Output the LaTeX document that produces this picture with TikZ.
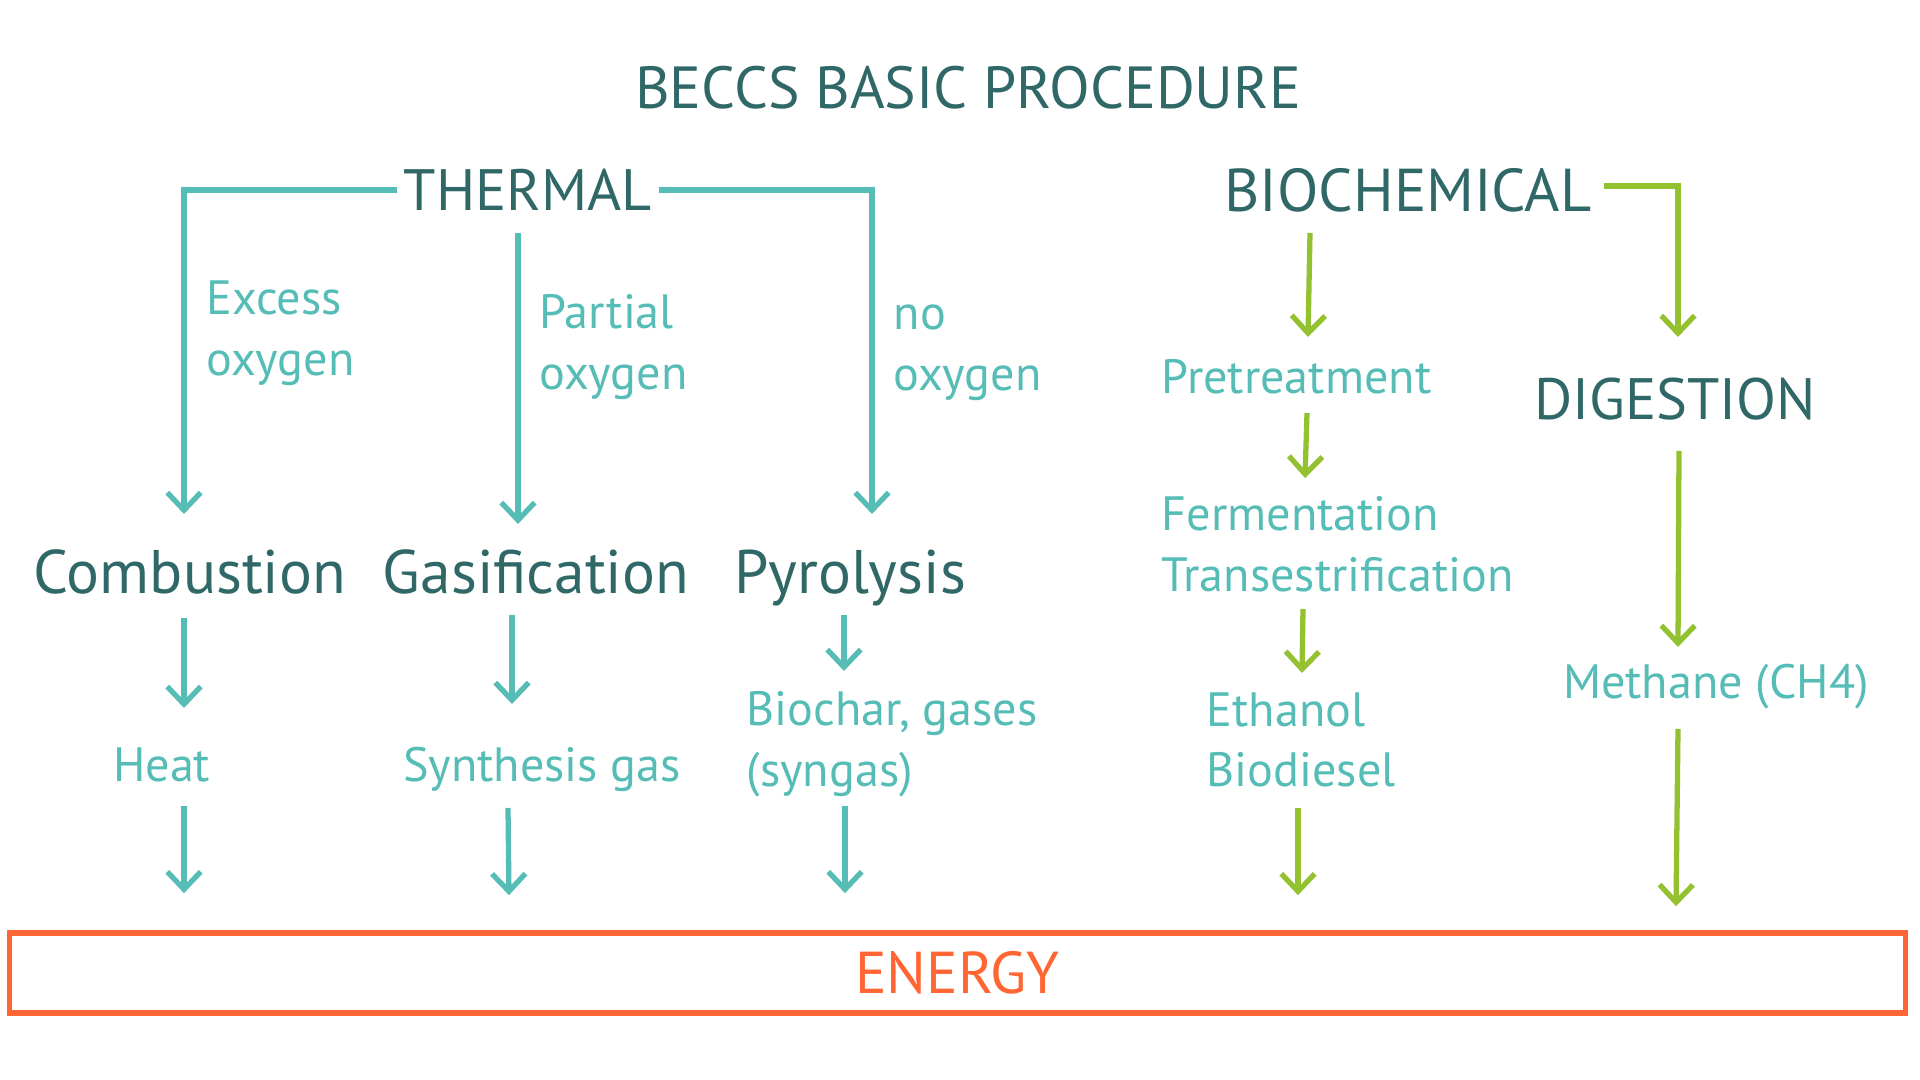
\documentclass[tikz,border=0pt]{standalone}
\usepackage{fontspec}
\setmainfont{PT Sans}
\usetikzlibrary{arrows.meta, positioning, calc}
\definecolor{tealL}{HTML}{55BCB6}
\definecolor{tealD}{HTML}{2F6866}
\definecolor{leaf}{HTML}{94C12F}
\definecolor{flame}{HTML}{FF6633}
\tikzset{
  lbl/.style={inner sep=0pt},
  head/.style={lbl, text=tealD, font=\fontsize{16.6}{20}\selectfont},
  proc/.style={lbl, text=tealD, text depth=0pt, font=\fontsize{17.5}{21}\selectfont},
  note/.style={lbl, text=tealL, font=\fontsize{13.7}{17.3}\selectfont, align=left},
  tarr/.style={draw=tealL, line width=1.5pt, -{Straight Barb[length=5pt,width=9.5pt]}},
  garr/.style={draw=leaf, line width=1.5pt, -{Straight Barb[length=5pt,width=9.5pt]}},
}
\begin{document}
\begin{tikzpicture}[x=0.01cm, y=-0.01cm]
  \useasboundingbox (0,0) rectangle (1920,1080);
  \node[head, font=\fontsize{16.9}{20}\selectfont] (title) at (968,88) {BECCS BASIC PROCEDURE};
  % thermal branch
  \node[head] (thermal) at (528,190) {THERMAL};
  \node[proc] (comb) at (190,572) {Combustion};
  \node[proc] (gasi) at (536,572) {Gasification};
  \node[proc] (pyro) at (850,572) {Pyrolysis};
  \node[note, anchor=west] (excess) at (206,333) {Excess\\oxygen};
  \node[note, anchor=west] (partial) at (539,347) {Partial\\oxygen};
  \node[note, anchor=west] (nooxy) at (893,353) {no\\oxygen};
  \node[note, anchor=east] (heat) at (211,765) {Heat};
  \node[note] (synth) at (542,769) {Synthesis gas};
  \node[note, anchor=west] (biochar) at (746,744) {Biochar, gases\\(syngas)};
  % biochemical branch
  \node[head, font=\fontsize{17.2}{20}\selectfont] (biochem) at (1408,190) {BIOCHEMICAL};
  \node[head] (digest) at (1675,399) {DIGESTION};
  \node[note, anchor=west] (pretreat) at (1161,377) {Pretreatment};
  \node[note, anchor=west] (ferm) at (1161,544) {Fermentation\\Transestrification};
  \node[note, anchor=west] (ethanol) at (1206,740) {Ethanol\\Biodiesel};
  \node[note] (methane) at (1716,687) {Methane (CH4)};
  % energy box
  \node[draw=flame, line width=1.6pt, text=flame, font=\fontsize{16.8}{20}\selectfont,
        minimum width=18.95cm, minimum height=0.8cm] (energy) at (957.5,973) {ENERGY};

  \draw[tarr] ($(thermal.west)+(-6,0)$) -| ($(comb)+(-6,-58)$);
  \draw[tarr] ($(thermal)+(-10,43)$) -- ($(gasi)+(-18,-48)$);
  \draw[tarr] ($(thermal.east)+(6,0)$) -| ($(pyro)+(22,-58)$);
  \draw[tarr] ($(comb)+(-6,46)$) -- ($(heat.east)+(-27,-57)$);
  \draw[tarr] ($(heat.east)+(-27,41)$) -- ($(heat.east |- energy.north)+(-27,-37)$);
  \draw[tarr] ($(gasi)+(-24,43)$) -- ($(synth)+(-30,-65)$);
  \draw[tarr] ($(synth)+(-34,39)$) -- ($(synth |- energy.north)+(-33,-35)$);
  \draw[tarr] ($(pyro)+(-6,43)$) -- ($(biochar.west)+(98,-73)$);
  \draw[tarr] ($(biochar.west)+(99,62)$) -- ($(biochar.west |- energy.north)+(99,-37)$);

  \draw[garr] ($(biochem.east)+(12,-4)$) -| ($(digest)+(3,-62)$);
  \draw[garr] ($(biochem)+(-98,43)$) -- ($(pretreat.west)+(147,-40)$);
  \draw[garr] ($(pretreat.west)+(146,36)$) -- ($(ferm.west)+(144,-66)$);
  \draw[garr] ($(ferm.west)+(142,65)$) -- ($(ethanol.west)+(96,-67)$);
  \draw[garr] ($(ethanol.west)+(92,68)$) -- ($(ethanol.west |- energy.north)+(92,-35)$);
  \draw[garr] ($(digest)+(4,52)$) -- ($(methane)+(-38,-40)$);
  \draw[garr] ($(methane)+(-38,42)$) -- ($(methane |- energy.north)+(-40,-24)$);
\end{tikzpicture}
\end{document}
